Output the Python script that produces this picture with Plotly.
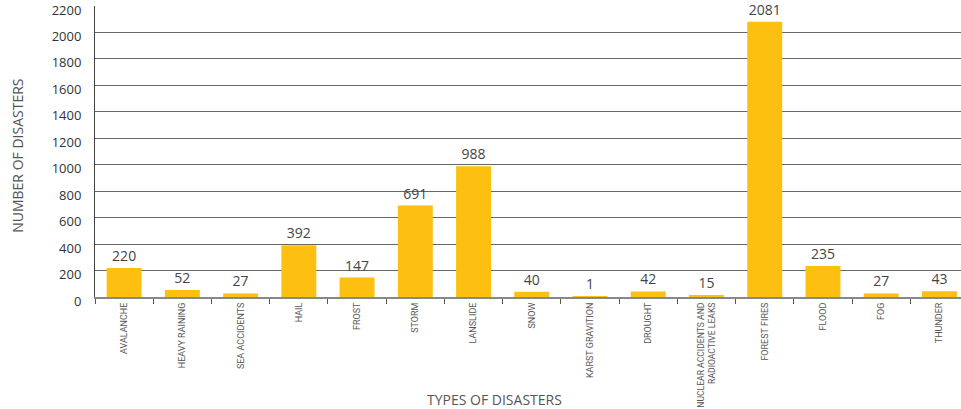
import plotly.graph_objects as go

categories = [
    "AVALANCHE", "HEAVY RAINING", "SEA ACCIDENTS", "HAIL", "FROST", "STORM",
    "LANSLIDE", "SNOW", "KARST GRAVITION", "DROUGHT",
    "NUCLEAR ACCIDENTS AND<br>RADIOACTIVE LEAKS", "FOREST FIRES", "FLOOD",
    "FOG", "THUNDER",
]
counts = [220, 52, 27, 392, 147, 691, 988, 40, 1, 42, 15, 2081, 235, 27, 43]
y_ticks = list(range(0, 2201, 200))

title_font = dict(family="Open Sans, Lato, sans-serif", size=14, color="#555555")


def tick_label(name):
    # two-line labels get a slightly smaller size so they fit below the axis
    if "<br>" in name:
        return "<br>".join(
            f"<span style='font-size:8.6px'>{part}</span>" for part in name.split("<br>")
        )
    return name


fig = go.Figure(
    go.Bar(
        x=categories,
        y=counts,
        marker=dict(color="#FDC010", line=dict(width=0)),
        text=[str(v) for v in counts],
        textposition="outside",
        cliponaxis=False,
        textfont=dict(family="Open Sans, Lato, sans-serif", size=14, color="#444444"),
        width=0.6,
    )
)

fig.update_layout(
    width=961,
    height=409,
    margin=dict(l=95, r=0, t=6, b=112),
    plot_bgcolor="white",
    paper_bgcolor="white",
    showlegend=False,
    font=dict(family="Open Sans, Lato, sans-serif", color="#333333"),
    annotations=[
        dict(
            text="NUMBER OF DISASTERS",
            xref="paper", yref="paper",
            x=-0.089, y=0.485,
            xanchor="center", yanchor="middle",
            textangle=-90,
            showarrow=False,
            font=title_font,
        ),
        dict(
            text="TYPES OF DISASTERS",
            xref="paper", yref="paper",
            x=0.461, y=-0.352,
            xanchor="center", yanchor="middle",
            showarrow=False,
            font=title_font,
        ),
    ],
)

fig.update_xaxes(
    type="category",
    automargin=False,
    range=[-0.5, 14.37],
    tickvals=categories,
    ticktext=[tick_label(c) for c in categories],
    tickangle=-90,
    tickson="boundaries",
    ticks="outside",
    ticklen=5,
    tickcolor="#555555",
    showline=True,
    linecolor="#888888",
    linewidth=2,
    tickfont=dict(family="Roboto, sans-serif", size=9, color="#555555"),
)

fig.update_yaxes(
    automargin=False,
    range=[0, 2200],
    tickvals=y_ticks,
    ticklabeloverflow="allow",
    ticklabelshift=4,
    showgrid=True,
    gridcolor="#666666",
    gridwidth=1,
    showline=True,
    linecolor="#444444",
    linewidth=1,
    zeroline=False,
    ticks="",
    ticklabelstandoff=10,
    tickfont=dict(family="Open Sans, Lato, sans-serif", size=13, color="#333333"),
)

fig.write_html("out.html")
